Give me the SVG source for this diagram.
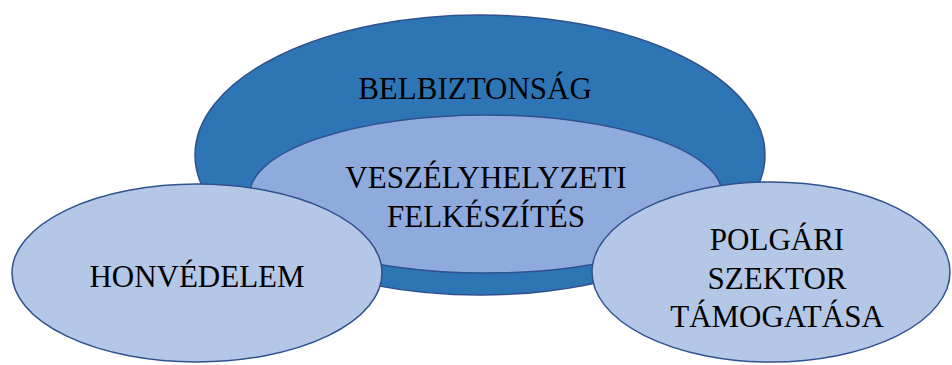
<svg xmlns="http://www.w3.org/2000/svg" width="952" height="365" viewBox="0 0 952 365">
<style>
.e{stroke:#2F528F;stroke-width:1.5}
.t{font-family:"Liberation Serif","Times New Roman",serif;font-size:31px;fill:#000;text-anchor:middle}
</style>
<rect width="952" height="365" fill="#fff"/>
<g id="belbiztonsag">
<ellipse class="e" cx="480" cy="155" rx="285" ry="140" fill="#2E75B6"/>
<text class="t" x="475" y="99">BELBIZTONSÁG</text>
</g>
<g id="veszelyhelyzeti">
<ellipse class="e" cx="486" cy="194" rx="236" ry="79" fill="#8FAADC"/>
<text class="t" x="486" y="188">VESZÉLYHELYZETI</text>
<text class="t" x="486" y="227">FELKÉSZÍTÉS</text>
</g>
<g id="honvedelem">
<ellipse class="e" cx="197" cy="273" rx="185" ry="89" fill="#B4C7E7"/>
<text class="t" x="197" y="287">HONVÉDELEM</text>
</g>
<g id="polgari">
<ellipse class="e" cx="771" cy="272" rx="179" ry="90" fill="#B4C7E7"/>
<text class="t" x="777" y="250">POLGÁRI</text>
<text class="t" x="777" y="289">SZEKTOR</text>
<text class="t" x="777" y="327">TÁMOGATÁSA</text>
</g>
<g id="connectors"/>
</svg>
